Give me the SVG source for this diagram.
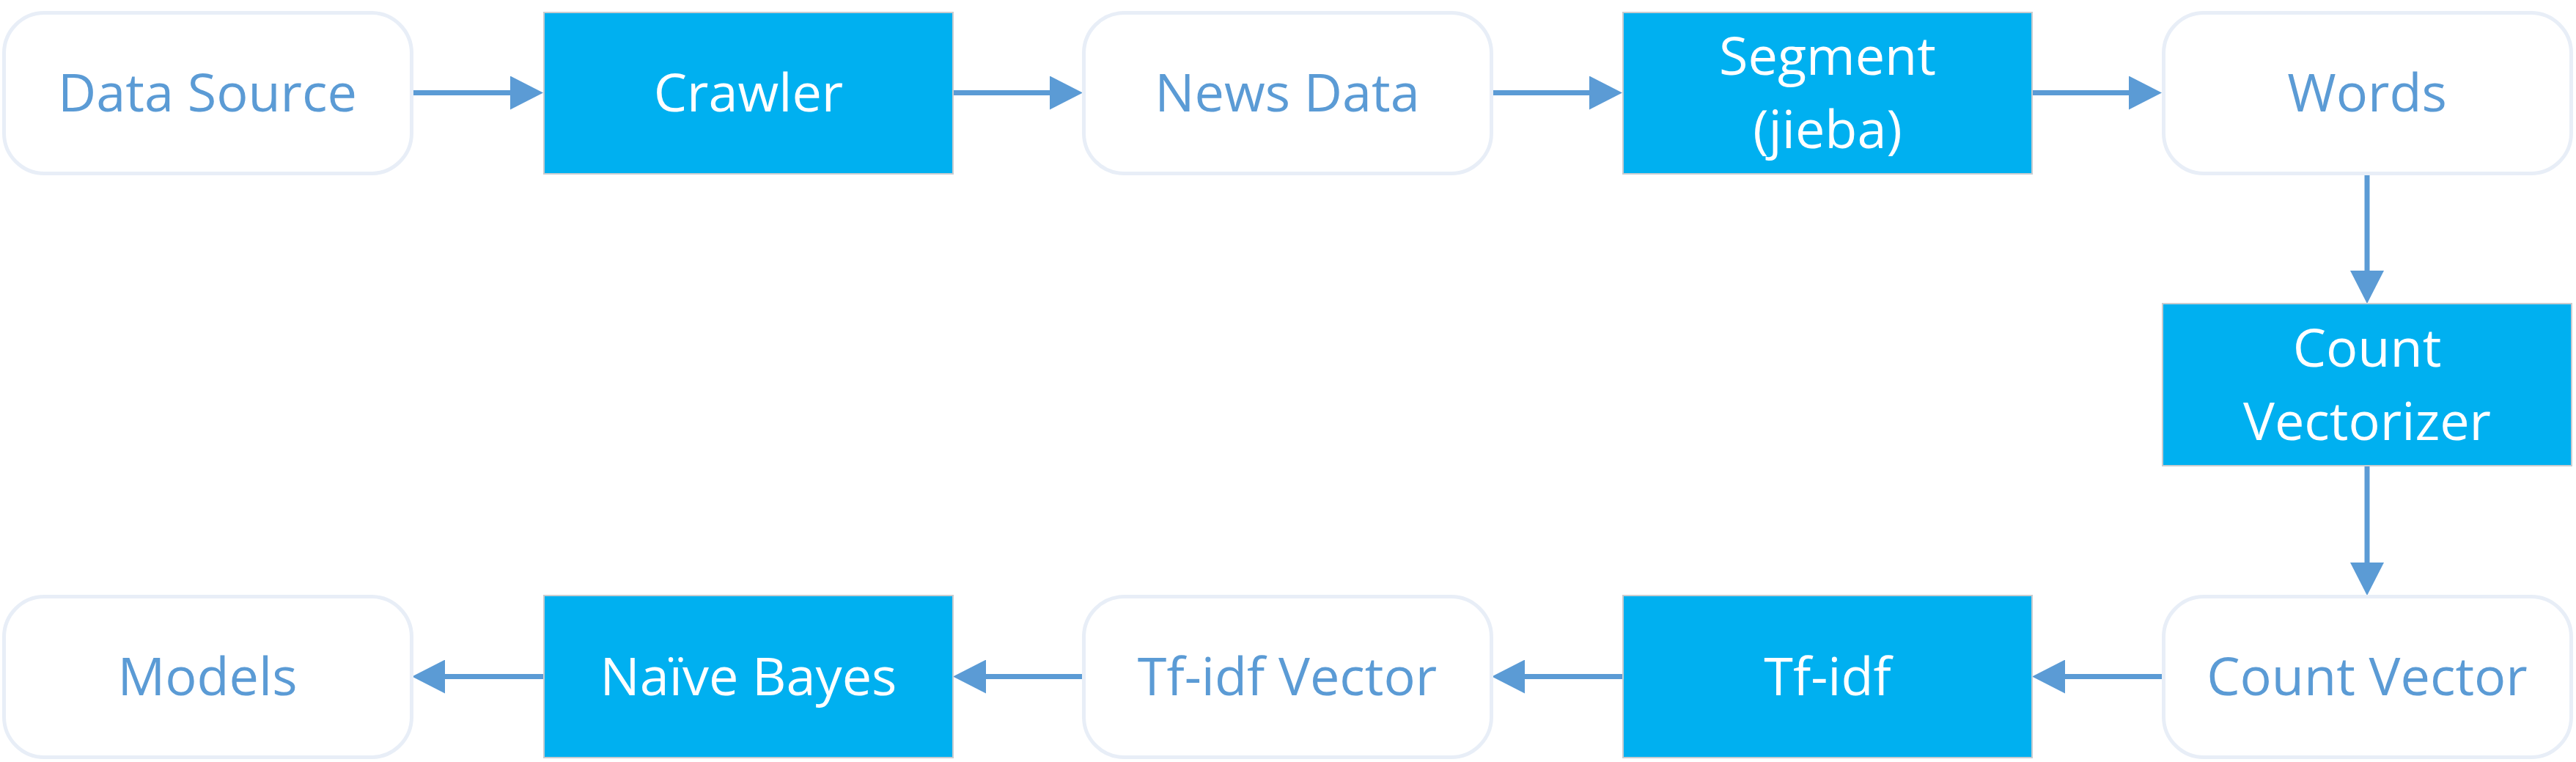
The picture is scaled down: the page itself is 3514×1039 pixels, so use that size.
<svg xmlns="http://www.w3.org/2000/svg" width="3514" height="1039" viewBox="0 0 3514 1039">
<style>
.w{fill:#FFFFFF;stroke:#E8EEF7;stroke-width:5}
.b{fill:#00B0F0;stroke:#C8CCD0;stroke-width:2}
.tw{font-family:"Open Sans","Noto Sans",sans-serif;font-size:72px;fill:#5B9BD5;text-anchor:middle}
.tb{font-family:"Open Sans","Noto Sans",sans-serif;font-size:72px;fill:#FFFFFF;text-anchor:middle}
.c{stroke:#5B9BD5;stroke-width:7;stroke-linecap:round;fill:none;marker-end:url(#ah)}
</style>
<defs>
<marker id="ah" markerUnits="userSpaceOnUse" viewBox="0 0 45 46" markerWidth="45" markerHeight="46" refX="0" refY="23" orient="auto">
<path d="M0,0 L45,23 L0,46 Z" fill="#5B9BD5"/>
</marker>
</defs>
<rect width="3514" height="1039" fill="#FFFFFF"/>
<g id="connectors">
<line class="c" x1="562" y1="126.5" x2="696" y2="126.5"/>
<line class="c" x1="1300" y1="126.5" x2="1432" y2="126.5"/>
<line class="c" x1="2035" y1="126.5" x2="2168" y2="126.5"/>
<line class="c" x1="2772" y1="126.5" x2="2904" y2="126.5"/>
<line class="c" x1="3229" y1="237" x2="3229" y2="369"/>
<line class="c" x1="3229" y1="635" x2="3229" y2="767"/>
<line class="c" x1="2950" y1="922.5" x2="2817" y2="922.5"/>
<line class="c" x1="2213" y1="922.5" x2="2080" y2="922.5"/>
<line class="c" x1="1477" y1="922.5" x2="1345" y2="922.5"/>
<line class="c" x1="741" y1="922.5" x2="607" y2="922.5"/>
</g>
<g id="data-source">
<rect class="w" x="5.5" y="17.5" width="556" height="219" rx="55" ry="55"/>
<text class="tw" x="283" y="152">Data Source</text>
</g>
<g id="crawler">
<rect class="b" x="742" y="17" width="558" height="220"/>
<text class="tb" x="1021" y="152">Crawler</text>
</g>
<g id="news-data">
<rect class="w" x="1478.5" y="17.5" width="556" height="219" rx="55" ry="55"/>
<text class="tw" x="1756" y="152">News Data</text>
</g>
<g id="segment">
<rect class="b" x="2214" y="17" width="558" height="220"/>
<text class="tb" x="2493" y="102">Segment</text>
<text class="tb" x="2493" y="202">(jieba)</text>
</g>
<g id="words">
<rect class="w" x="2951.5" y="17.5" width="556" height="219" rx="55" ry="55"/>
<text class="tw" x="3229" y="152">Words</text>
</g>
<g id="count-vectorizer">
<rect class="b" x="2950" y="414" width="558" height="221"/>
<text class="tb" x="3229" y="500">Count</text>
<text class="tb" x="3229" y="600">Vectorizer</text>
</g>
<g id="count-vector">
<rect class="w" x="2951.5" y="813.5" width="556" height="219" rx="55" ry="55"/>
<text class="tw" x="3229" y="948">Count Vector</text>
</g>
<g id="tf-idf">
<rect class="b" x="2214" y="812" width="558" height="221"/>
<text class="tb" x="2493" y="948">Tf-idf</text>
</g>
<g id="tf-idf-vector">
<rect class="w" x="1478.5" y="813.5" width="556" height="219" rx="55" ry="55"/>
<text class="tw" x="1756" y="948">Tf-idf Vector</text>
</g>
<g id="naive-bayes">
<rect class="b" x="742" y="812" width="558" height="221"/>
<text class="tb" x="1021" y="948">Naïve Bayes</text>
</g>
<g id="models">
<rect class="w" x="5.5" y="813.5" width="556" height="219" rx="55" ry="55"/>
<text class="tw" x="283" y="948">Models</text>
</g>
</svg>
